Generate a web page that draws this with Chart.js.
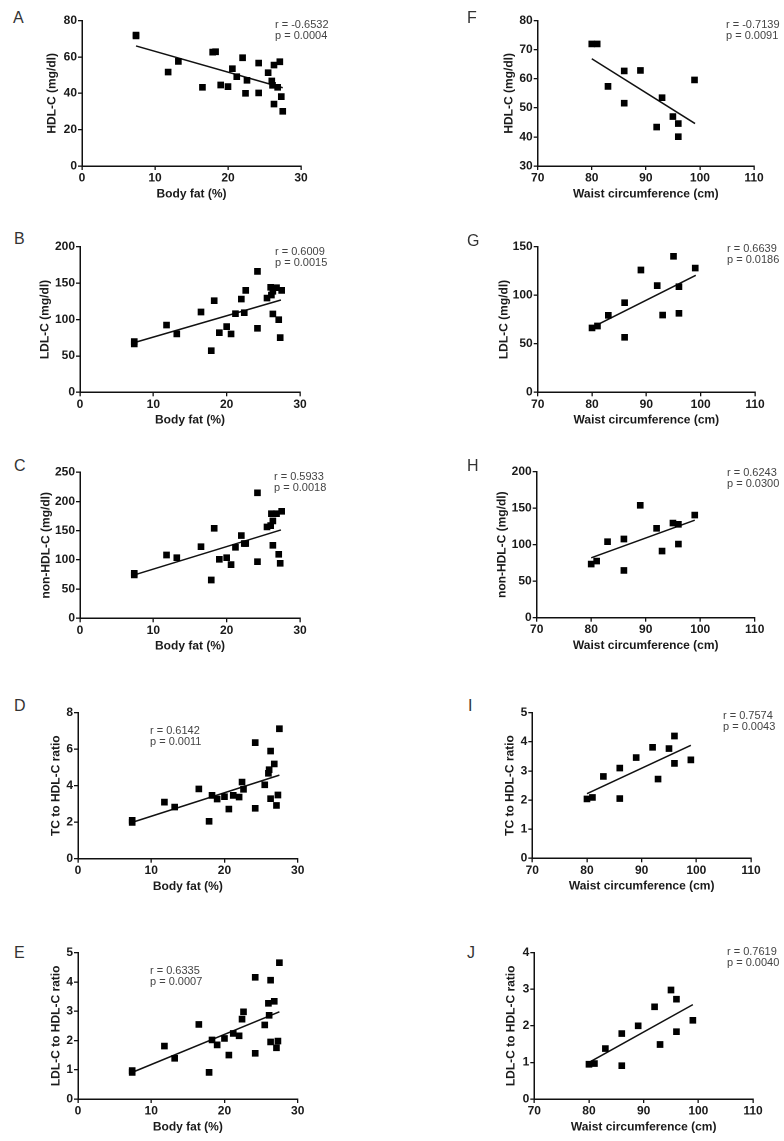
<!DOCTYPE html>
<html><head><meta charset="utf-8">
<script src="https://cdn.jsdelivr.net/npm/chart.js@4.4.1/dist/chart.umd.min.js"></script>
<style>
html,body{margin:0;padding:0;background:#fff;width:784px;height:1141px;overflow:hidden;position:relative;font-family:"Liberation Sans",Arial,sans-serif;}
canvas{position:absolute;}
.lbl{position:absolute;font-size:16px;line-height:16px;color:#333;}
.stat{position:absolute;font-size:11px;line-height:11px;color:#444;white-space:pre;}
</style></head><body>
<script>
// ---- data ----
const bodyFat = [7.4, 7.4, 11.8, 13.2, 16.5, 17.9, 18.3, 19.0, 20.0, 20.6, 21.2, 22.0, 22.4, 22.6, 24.2, 24.2, 25.5, 26.0, 26.1, 26.3, 26.3, 26.8, 27.1, 27.3, 27.5];
const waist = [80, 81, 83, 86, 86, 89, 92, 93, 95, 96, 96, 99];

const hdlBodyFat = [72.1, 71.6, 51.7, 57.6, 43.3, 62.7, 62.9, 44.6, 43.7, 53.6, 49.2, 59.6, 40.0, 47.2, 56.7, 40.2, 51.4, 46.8, 44.4, 55.6, 34.1, 43.3, 57.4, 38.2, 30.1];
const ldlBodyFat = [69.6, 66.4, 92.4, 80.1, 110.3, 57.2, 125.9, 81.9, 90.2, 80.1, 108.0, 128.1, 109.4, 140.0, 166.1, 87.9, 129.5, 144.2, 133.6, 107.6, 138.7, 143.7, 99.8, 75.1, 140.0];
const nonHdlBodyFat = [77.1, 74.3, 108.4, 103.8, 122.7, 65.6, 154.1, 101.0, 103.8, 91.9, 121.6, 141.6, 127.9, 127.9, 214.9, 97.0, 156.4, 158.7, 179.2, 125.0, 166.7, 179.2, 109.6, 94.2, 183.2];
const tcRatioBodyFat = [2.10, 1.99, 3.10, 2.83, 3.82, 2.05, 3.47, 3.27, 3.40, 2.72, 3.47, 3.38, 4.20, 3.80, 6.36, 2.76, 4.05, 4.68, 4.88, 5.90, 3.29, 5.19, 2.92, 3.49, 7.12];
const ldlRatioBodyFat = [0.97, 0.91, 1.81, 1.39, 2.55, 0.91, 2.02, 1.85, 2.07, 1.50, 2.24, 2.16, 2.73, 2.98, 4.16, 1.56, 2.53, 3.27, 2.86, 4.06, 1.95, 3.34, 1.75, 1.98, 4.66];

const hdlWaist = [72.0, 72.0, 57.4, 62.7, 51.6, 62.9, 43.4, 53.5, 47.0, 44.6, 40.1, 59.6];
const ldlWaist = [66.3, 68.3, 79.3, 92.3, 56.6, 126.0, 109.9, 79.6, 140.1, 108.8, 81.4, 128.0];
const nonHdlWaist = [73.5, 77.6, 104.1, 107.8, 64.8, 153.9, 122.4, 91.3, 129.7, 127.9, 100.9, 140.6];
const tcRatioWaist = [2.04, 2.09, 2.81, 3.10, 2.05, 3.46, 3.81, 2.72, 3.77, 4.20, 3.26, 3.38];
const ldlRatioWaist = [0.95, 0.97, 1.38, 1.79, 0.91, 2.00, 2.52, 1.49, 2.98, 2.73, 1.84, 2.15];

// regression line end points [x, y]
const fitA = [[7.4, 66.1], [27.5, 43.1]];
const fitB = [[7.4, 68.2], [27.4, 126.8]];
const fitC = [[7.4, 74.3], [27.4, 151.3]];
const fitD = [[7.4, 1.99], [27.5, 4.58]];
const fitE = [[7.4, 0.91], [27.5, 2.98]];
const fitF = [[80, 66.9], [99.1, 44.6]];
const fitG = [[80, 66.8], [99.1, 120.5]];
const fitH = [[80, 82.0], [99, 133.6]];
const fitI = [[80, 2.22], [99, 3.88]];
const fitJ = [[80, 1.00], [99, 2.58]];

// tick labels
const ticksBodyFat = [0, 10, 20, 30];
const ticksWaist = [70, 80, 90, 100, 110];
const ticksA = [0, 20, 40, 60, 80];
const ticksB = [0, 50, 100, 150, 200];
const ticksC = [0, 50, 100, 150, 200, 250];
const ticksD = [0, 2, 4, 6, 8];
const ticksE = [0, 1, 2, 3, 4, 5];
const ticksF = [30, 40, 50, 60, 70, 80];
const ticksG = [0, 50, 100, 150];
const ticksH = [0, 50, 100, 150, 200];
const ticksI = [0, 1, 2, 3, 4, 5];
const ticksJ = [0, 1, 2, 3, 4];

const xTitleBF = 'Body fat (%)';
const xTitleW = 'Waist circumference (cm)';

const stats = {
  A: ['r = -0.6532', 'p = 0.0004'], B: ['r = 0.6009', 'p = 0.0015'], C: ['r = 0.5933', 'p = 0.0018'],
  D: ['r = 0.6142', 'p = 0.0011'], E: ['r = 0.6335', 'p = 0.0007'], F: ['r = -0.7139', 'p = 0.0091'],
  G: ['r = 0.6639', 'p = 0.0186'], H: ['r = 0.6243', 'p = 0.0300'], I: ['r = 0.7574', 'p = 0.0043'],
  J: ['r = 0.7619', 'p = 0.0040']
};

// ---- layout ----
const panels = [
  {id:'A', x:bodyFat, y:hdlBodyFat, fit:fitA, xt:ticksBodyFat, yt:ticksA, ytitle:'HDL-C (mg/dl)', xtitle:xTitleBF, box:[82,20.7,301,166], yOff:29, letter:[13,10], stat:[275,19]},
  {id:'B', x:bodyFat, y:ldlBodyFat, fit:fitB, xt:ticksBodyFat, yt:ticksB, ytitle:'LDL-C (mg/dl)', xtitle:xTitleBF, box:[80,246.7,300,392.3], yOff:34, letter:[14,231], stat:[275,246]},
  {id:'C', x:bodyFat, y:nonHdlBodyFat, fit:fitC, xt:ticksBodyFat, yt:ticksC, ytitle:'non-HDL-C (mg/dl)', xtitle:xTitleBF, box:[80,472.3,300,618.3], yOff:33, letter:[14,458], stat:[274,471]},
  {id:'D', x:bodyFat, y:tcRatioBodyFat, fit:fitD, xt:ticksBodyFat, yt:ticksD, ytitle:'TC to HDL-C ratio', xtitle:xTitleBF, box:[78,712.7,297.7,858.7], yOff:21, letter:[14,698], stat:[150,724.5]},
  {id:'E', x:bodyFat, y:ldlRatioBodyFat, fit:fitE, xt:ticksBodyFat, yt:ticksE, ytitle:'LDL-C to HDL-C ratio', xtitle:xTitleBF, box:[78,952.7,297.7,1099], yOff:21, letter:[14,945], stat:[150,964.5]},
  {id:'F', x:waist, y:hdlWaist, fit:fitF, xt:ticksWaist, yt:ticksF, ytitle:'HDL-C (mg/dl)', xtitle:xTitleW, box:[537.7,20.7,754,166], yOff:28, letter:[467,10], stat:[726,19]},
  {id:'G', x:waist, y:ldlWaist, fit:fitG, xt:ticksWaist, yt:ticksG, ytitle:'LDL-C (mg/dl)', xtitle:xTitleW, box:[537.7,246.7,755,392.3], yOff:33, letter:[467,233], stat:[727,243]},
  {id:'H', x:waist, y:nonHdlWaist, fit:fitH, xt:ticksWaist, yt:ticksH, ytitle:'non-HDL-C (mg/dl)', xtitle:xTitleW, box:[536.7,471.7,754.7,617.7], yOff:34, letter:[467,458], stat:[727,467]},
  {id:'I', x:waist, y:tcRatioWaist, fit:fitI, xt:ticksWaist, yt:ticksI, ytitle:'TC to HDL-C ratio', xtitle:xTitleW, box:[532.3,712.7,751,858.3], yOff:22, letter:[468,698], stat:[723,710]},
  {id:'J', x:waist, y:ldlRatioWaist, fit:fitJ, xt:ticksWaist, yt:ticksJ, ytitle:'LDL-C to HDL-C ratio', xtitle:xTitleW, box:[534.3,952.7,753,1099], yOff:22.6, letter:[467,945], stat:[727,946]}
];

const FONT = '"Liberation Sans", Arial, sans-serif';
const TICK_FONT = {family: FONT, size: 12, weight: 'bold'};
const TITLE_FONT = {family: FONT, size: 12, weight: 'bold', lineHeight: 1.2};
const HALF_LH = 12 * 1.2 / 2;

function axis(ticks, title, isX, fitSize) {
  return {
    type: 'linear',
    min: ticks[0], max: ticks[ticks.length - 1],
    afterBuildTicks: s => { s.ticks = ticks.map(v => ({value: v})); },
    ticks: {font: TICK_FONT, color: '#1a1a1a', padding: 1, autoSkip: false, maxRotation: 0},
    grid: {display: true, drawOnChartArea: false, drawTicks: true, tickLength: 4, color: '#111', lineWidth: 1.3},
    border: {display: true, color: '#111', width: 1.5},
    title: {display: true, text: title, font: TITLE_FONT, color: '#1a1a1a', padding: 0},
    afterFit: s => { if (isX) s.height = fitSize; else s.width = fitSize; }
  };
}

panels.forEach(p => {
  const [L, T, R, B] = p.box;
  const yW = p.yOff + HALF_LH;
  const xH = 28 + HALF_LH;
  const left = Math.floor(L - yW);
  const top = Math.floor(T - 10);
  const width = Math.ceil(R - left + 12);
  const height = Math.ceil(B - top + xH);
  const c = document.createElement('canvas');
  c.width = width; c.height = height;
  c.style.left = left + 'px'; c.style.top = top + 'px';
  c.style.width = width + 'px'; c.style.height = height + 'px';
  document.body.appendChild(c);

  const padTop = T - top;
  const padRight = width - (R - left);
  const padBottom = height - (B - top) - xH;

  new Chart(c, {
    type: 'scatter',
    data: {
      datasets: [
        {type: 'line', data: p.fit.map(d => ({x: d[0], y: d[1]})), borderColor: '#111', borderWidth: 1.5, pointRadius: 0, showLine: true, fill: false, order: 2},
        {data: p.x.map((v, i) => ({x: v, y: p.y[i]})), pointStyle: 'rect', pointRadius: 4.7, pointHoverRadius: 4.7, backgroundColor: '#000', borderWidth: 0, order: 1}
      ]
    },
    options: {
      responsive: false, animation: false, devicePixelRatio: 2,
      layout: {padding: {left: 0, top: padTop, right: padRight, bottom: padBottom}},
      plugins: {legend: {display: false}, tooltip: {enabled: false}},
      scales: {
        x: axis(p.xt, p.xtitle, true, xH),
        y: axis(p.yt, p.ytitle, false, L - left)
      }
    }
  });

  const lt = document.createElement('div');
  lt.className = 'lbl';
  lt.style.left = p.letter[0] + 'px'; lt.style.top = p.letter[1] + 'px';
  lt.textContent = p.id;
  document.body.appendChild(lt);

  const st = document.createElement('div');
  st.className = 'stat';
  st.style.left = p.stat[0] + 'px'; st.style.top = p.stat[1] + 'px';
  st.textContent = stats[p.id].join('\n');
  document.body.appendChild(st);
});
</script>
</body></html>
